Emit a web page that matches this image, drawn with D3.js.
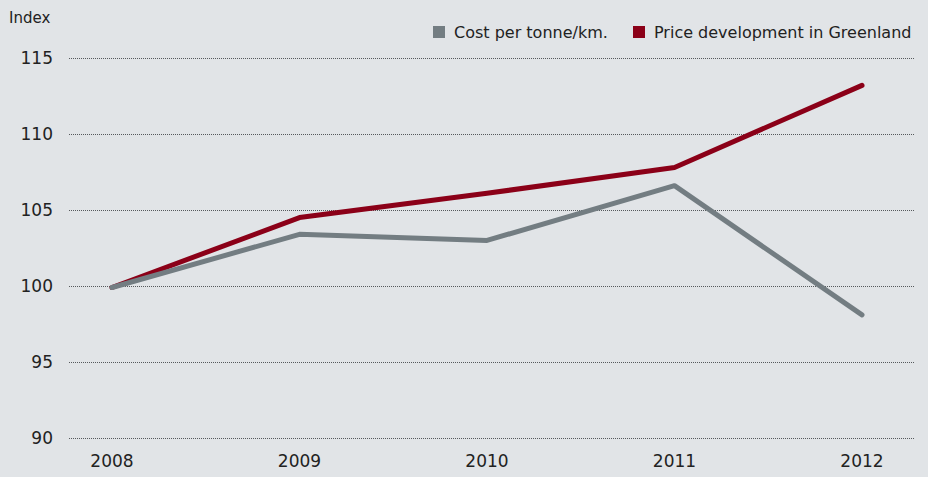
<!DOCTYPE html>
<html>
<head>
<meta charset="utf-8">
<script src="https://cdn.jsdelivr.net/npm/d3@7"></script>
<style>
  html, body { margin: 0; padding: 0; background: #e1e4e7; }
  svg { display: block; font-family: "DejaVu Sans", sans-serif; }
</style>
</head>
<body>
<div id="chart"></div>
<script>
(function () {
  'use strict';

  var years = ['2008', '2009', '2010', '2011', '2012'];
  var costValues = [99.9, 103.4, 103.0, 106.6, 98.1];
  var priceValues = [99.9, 104.5, 106.1, 107.8, 113.2];
  var yTicks = [90, 95, 100, 105, 110, 115];

  var w = 928, h = 477;
  var svg = d3.select('#chart').append('svg')
    .attr('width', w)
    .attr('height', h);

  svg.append('rect').attr('width', w).attr('height', h).attr('fill', '#e1e4e7');

  var x = d3.scalePoint().domain(years).range([112, 862]);
  var y = d3.scaleLinear().domain([90, 115]).range([438, 58]);

  // gridlines + y labels
  var grid = svg.append('g');
  grid.selectAll('line')
    .data(yTicks)
    .enter().append('line')
    .attr('x1', 69).attr('x2', 914)
    .attr('y1', function (d) { return y(d) + 0.5; })
    .attr('y2', function (d) { return y(d) + 0.5; })
    .attr('stroke', '#55595c')
    .attr('stroke-width', 1)
    .attr('stroke-dasharray', '1,1');

  grid.selectAll('text')
    .data(yTicks)
    .enter().append('text')
    .attr('x', 53)
    .attr('y', function (d) { return y(d) + 6; })
    .attr('text-anchor', 'end')
    .attr('font-size', 17)
    .attr('fill', '#222')
    .text(function (d) { return d; });

  svg.append('text')
    .attr('x', 9).attr('y', 23)
    .attr('font-size', 15)
    .attr('fill', '#222')
    .text('Index');

  // x labels
  svg.append('g').selectAll('text')
    .data(years)
    .enter().append('text')
    .attr('x', function (d) { return x(d); })
    .attr('y', 467)
    .attr('text-anchor', 'middle')
    .attr('font-size', 17)
    .attr('fill', '#222')
    .text(function (d) { return d; });

  var line = d3.line()
    .x(function (d, i) { return x(years[i]); })
    .y(function (d) { return y(d); });

  svg.append('path')
    .attr('d', line(priceValues))
    .attr('fill', 'none')
    .attr('stroke', '#8b0018')
    .attr('stroke-width', 5)
    .attr('stroke-linecap', 'round')
    .attr('stroke-linejoin', 'round');

  svg.append('path')
    .attr('d', line(costValues))
    .attr('fill', 'none')
    .attr('stroke', '#737d82')
    .attr('stroke-width', 5)
    .attr('stroke-linecap', 'round')
    .attr('stroke-linejoin', 'round');

  // legend
  var legend = [
    { label: 'Cost per tonne/km.', color: '#737d82', x: 433 },
    { label: 'Price development in Greenland', color: '#8b0018', x: 633 }
  ];
  var lg = svg.append('g').selectAll('g')
    .data(legend)
    .enter().append('g')
    .attr('transform', function (d) { return 'translate(' + d.x + ',0)'; });
  lg.append('rect')
    .attr('x', 0).attr('y', 26)
    .attr('width', 12).attr('height', 12)
    .attr('fill', function (d) { return d.color; });
  lg.append('text')
    .attr('x', 21).attr('y', 38)
    .attr('font-size', 16)
    .attr('fill', '#222')
    .text(function (d) { return d.label; });
})();
</script>
</body>
</html>
